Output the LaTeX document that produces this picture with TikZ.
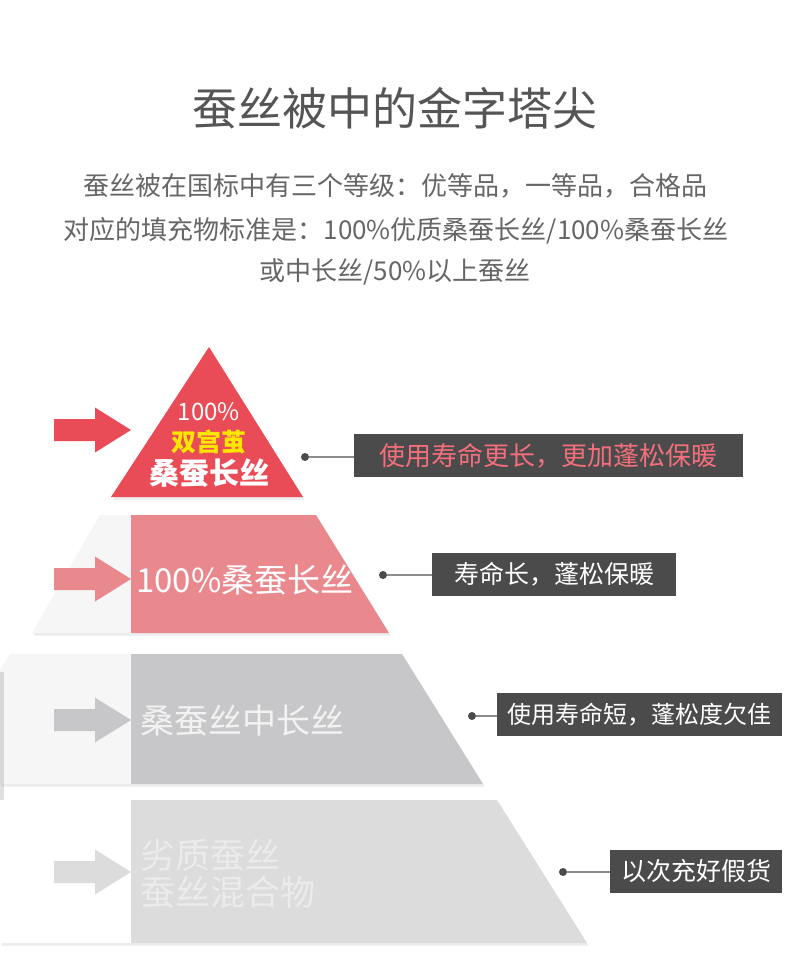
\documentclass[tikz,border=0pt]{standalone}
\usepackage{fontspec}
\setmainfont{Noto Sans CJK SC}
\usepackage{xcolor}
\usetikzlibrary{shadows,calc}

\definecolor{tiertop}{HTML}{E94C56}
\definecolor{tiertwo}{HTML}{E9898E}
\definecolor{tierthree}{HTML}{C7C7C9}
\definecolor{tierfour}{HTML}{DCDCDC}
\definecolor{paleside}{HTML}{F6F6F6}
\definecolor{tagbg}{HTML}{4B4B4B}
\definecolor{tagpink}{HTML}{F36F7C}
\definecolor{goldtext}{HTML}{FFE600}
\definecolor{titlegray}{HTML}{555555}
\definecolor{subgray}{HTML}{666666}
\definecolor{leadgray}{HTML}{8C8C8C}

\begin{document}
\begin{tikzpicture}[x=1pt,y=-1pt,
  tier shadow/.style={drop shadow={shadow xshift=1.5pt,shadow yshift=-2.5pt,opacity=.15}},
  tag/.style={fill=tagbg,text=white,minimum height=43pt,inner sep=0pt,font=\fontsize{25}{25}\selectfont},
  leaddot/.style={circle,fill=tagbg,inner sep=0pt,minimum size=8pt},
  leader/.style={draw=leadgray,line width=1.5pt}]
  % Page
  \fill[white] (0,0) rectangle (790,974);
  \useasboundingbox (0,0) rectangle (790,974);
  % Heading
  \node[text=titlegray,font=\fontsize{45}{45}\selectfont] (title) at (395,108) {蚕丝被中的金字塔尖};
  \node[text=subgray,font=\fontsize{26}{26}\selectfont] (sub1) at (395,186) {蚕丝被在国标中有三个等级：优等品，一等品，合格品};
  \node[text=subgray,font=\fontsize{26}{26}\selectfont] (sub2) at (396,231) {对应的填充物标准是：100\%优质桑蚕长丝/100\%桑蚕长丝};
  \node[text=subgray,font=\fontsize{26}{26}\selectfont] (sub3) at (395,272) {或中长丝/50\%以上蚕丝};
  % Tier 1: top triangle
  \fill[tiertop,tier shadow] (209,347) -- (303,497) -- (111,497) -- cycle;
  % Tier 2
  \fill[paleside,tier shadow] (100,515) -- (316,515) -- (389,633) -- (32,633) -- cycle;
  \fill[tiertwo] (131,515) -- (316,515) -- (389,633) -- (131,633) -- cycle;
  % Tier 3
  \fill[paleside,tier shadow] (10,654) -- (402,654) -- (483,784) -- (0,784) -- (0,670) -- cycle;
  \fill[tierthree] (131,654) -- (402,654) -- (483,784) -- (131,784) -- cycle;
  \fill[black,opacity=.12] (0,672) rectangle (4,800);
  % Tier 4
  \fill[white,tier shadow] (0,800) -- (497,800) -- (587,943) -- (0,943) -- cycle;
  \fill[tierfour] (131,800) -- (497,800) -- (587,943) -- (131,943) -- cycle;
  % Arrows
  \foreach \ay/\ac in {430/tiertop,579/tiertwo,720/tierthree,872/tierfour}
    \fill[\ac] (54,\ay-11) -- (95,\ay-11) -- (95,\ay-22.5) -- (131,\ay)
      -- (95,\ay+22.5) -- (95,\ay+11) -- (54,\ay+11) -- cycle;
  % Tier labels
  \node[text=white,inner sep=0pt,font=\fontsize{24}{24}\selectfont] (toppct) at (209,412) {100\%};
  \node[text=goldtext,inner sep=0pt,font=\fontsize{25}{25}\selectfont\bfseries] (topgold) at (209,442) {双宫茧};
  \node[text=white,inner sep=0pt,font=\fontsize{30}{30}\selectfont\bfseries] (topname) at (209,473) {桑蚕长丝};
  \node[text=white,inner sep=0pt,anchor=west,font=\fontsize{33}{33}\selectfont] (midname) at (136,580) {100\%桑蚕长丝};
  \node[text=white!95!black,inner sep=0pt,anchor=west,font=\fontsize{34}{34}\selectfont] (lowname) at (140,721) {桑蚕丝中长丝};
  \node[text=white!92!black,inner sep=0pt,anchor=west,font=\fontsize{35}{35}\selectfont] (baseone) at (140,855) {劣质蚕丝};
  \node[text=white!92!black,inner sep=0pt,anchor=west,font=\fontsize{35}{35}\selectfont] (basetwo) at (140,892) {蚕丝混合物};
  % Callouts
  \node[tag,minimum width=389pt,text=tagpink,font=\fontsize{26}{26}\selectfont] (tag1) at (548.5,455.5) {使用寿命更长，更加蓬松保暖};
  \node[tag,minimum width=244pt] (tag2) at (554,574) {寿命长，蓬松保暖};
  \node[tag,minimum width=285pt,font=\fontsize{24}{24}\selectfont] (tag3) at (639.5,714.5) {使用寿命短，蓬松度欠佳};
  \node[tag,minimum width=172pt] (tag4) at (696,871.5) {以次充好假货};
  \node[leaddot] (dot1) at (305,457) {};
  \node[leaddot] (dot2) at (383,575) {};
  \node[leaddot] (dot3) at (472,716) {};
  \node[leaddot] (dot4) at (563,872) {};
  \foreach \i in {1,...,4}
    \draw[leader] (dot\i) -- (dot\i -| tag\i.west);
\end{tikzpicture}
\end{document}
